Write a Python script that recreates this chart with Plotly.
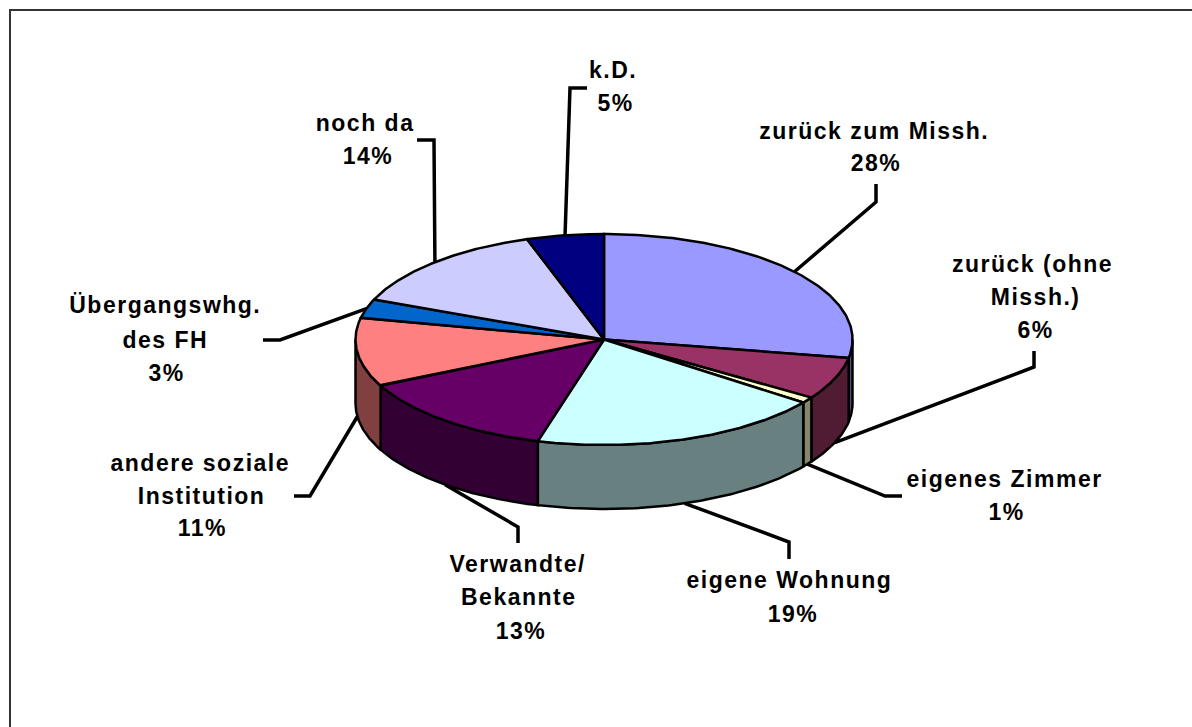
import numpy as np
import plotly.graph_objects as go

# ---- data -------------------------------------------------------------
categories = ["zurück zum Missh.", "zurück (ohne|Missh.)", "eigenes Zimmer",
              "eigene Wohnung", "Verwandte/|Bekannte", "andere soziale|Institution",
              "Übergangswhg.|des FH", "noch da", "k.D."]
values = [27.8, 6.49, 0.9, 19.1, 13.49, 10.51, 2.9, 13.8, 5.01]
top_colors = ["#9999FF", "#993366", "#FFFFCC", "#CCFFFF", "#660066",
              "#FF8080", "#0066CC", "#CCCCFF", "#000080"]
side_colors = ["#4F4F8A", "#4F1C33", "#86866B", "#688080", "#330033",
               "#804040", "#003366", "#666680", "#000040"]

# ---- layout of the tilted pie -----------------------------------------
CX, CY, RX, RY, DEPTH = 604, 339.5, 248.5, 105.5, 64

# per label: text line centres (x, y), then leader label end and elbow
line_pos = [[(874, 131), (876, 163)],
            [(1032, 264), (1035, 297), (1035, 330)],
            [(1004, 479), (1006, 512)],
            [(789, 580), (793, 614)],
            [(518, 564), (519, 597), (521, 631)],
            [(200, 463), (201, 496), (202, 528)],
            [(165, 305), (165, 340), (166, 373)],
            [(365, 123), (368, 156)],
            [(613, 70), (615, 103)]]
leader_end = [(876, 184), (1034, 351), (902, 496), (789, 559), (518, 543),
              (294, 496), (263, 340), (417, 140), (587, 88)]
leader_elbow = [(876, 202), (1034, 367), (885, 496), (789, 542), (518, 527),
                (310, 496), (280, 340), (434, 140), (570, 88)]


def rim(theta, drop=0.0):
    """Point(s) on the pie rim; theta in radians clockwise from 12 o'clock."""
    theta = np.asarray(theta, dtype=float)
    return CX + RX * np.sin(theta), CY - RY * np.cos(theta) + drop


edges = 2 * np.pi * np.concatenate([[0], np.cumsum(values)]) / sum(values)
fig = go.Figure()

# leader lines: start at the middle of the slice, on the lower rim if in front
for i in range(len(values)):
    mid = (edges[i] + edges[i + 1]) / 2
    tip = rim(mid, DEPTH if np.pi / 2 < mid < 3 * np.pi / 2 else 0)
    fig.add_trace(go.Scatter(
        x=[leader_end[i][0], leader_elbow[i][0], float(tip[0])],
        y=[leader_end[i][1], leader_elbow[i][1], float(tip[1])],
        mode="lines", line=dict(color="black", width=3.5),
        hoverinfo="skip", showlegend=False))

# side wall: only the front half (90..270 degrees) is visible
for i in range(len(values)):
    a, b = max(edges[i], np.pi / 2), min(edges[i + 1], 3 * np.pi / 2)
    if b <= a:
        continue
    t = np.linspace(a, b, 80)
    x1, y1 = rim(t)
    x2, y2 = rim(t[::-1], DEPTH)
    fig.add_trace(go.Scatter(
        x=np.r_[x1, x2, x1[0]], y=np.r_[y1, y2, y1[0]], mode="lines", fill="toself",
        fillcolor=side_colors[i], line=dict(color="black", width=2.5),
        hoverinfo="skip", showlegend=False))

# top face
for i in range(len(values)):
    t = np.linspace(edges[i], edges[i + 1], 120)
    x, y = rim(t)
    fig.add_trace(go.Scatter(
        x=np.r_[CX, x, CX], y=np.r_[CY, y, CY], mode="lines", fill="toself",
        fillcolor=top_colors[i], line=dict(color="black", width=2.5),
        hoverinfo="skip", showlegend=False))

# labels
annotations = []
for i, cat in enumerate(categories):
    lines = cat.split("|") + [f"{values[i]:.0f}%"]
    for text, (x, y) in zip(lines, line_pos[i]):
        annotations.append(dict(
            x=x, y=y, xref="x", yref="y", text=text, showarrow=False,
            xanchor="center", yanchor="middle",
            font=dict(family="Liberation Sans", size=23, color="black", weight=700)))

# chart-area frame: only top and left edges are visible
shapes = [dict(type="line", xref="x", yref="y", line=dict(color="#333333", width=2), **s)
          for s in (dict(x0=9, x1=1192, y0=10, y1=10), dict(x0=10, x1=10, y0=9, y1=727))]

fig.update_layout(
    width=1192, height=727, margin=dict(l=0, r=0, t=0, b=0),
    paper_bgcolor="white", plot_bgcolor="white", showlegend=False,
    xaxis=dict(range=[0, 1192], visible=False, fixedrange=True),
    yaxis=dict(range=[727, 0], visible=False, fixedrange=True),
    annotations=annotations, shapes=shapes)

css = ("var s=document.createElement('style');"
       "s.textContent='html,body{margin:0;padding:0;overflow:hidden} "
       ".annotation-text{letter-spacing:1.5px}';"
       "document.head.appendChild(s);")
fig.write_html("out.html", post_script=css, config=dict(displayModeBar=False))
